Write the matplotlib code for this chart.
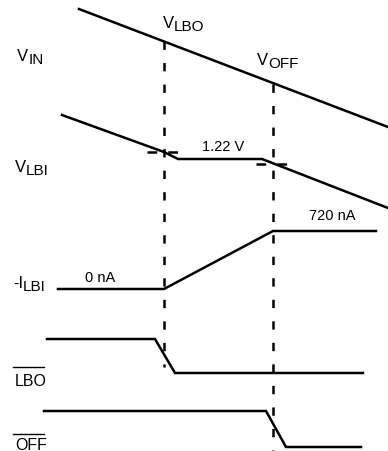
import matplotlib
matplotlib.use("Agg")
import matplotlib.pyplot as plt

# Timing diagram traces (pixel units, y grows downward)
vin_x = [79, 388]
vin_y = [10, 128]
vlbi_x = [62, 164, 178, 262, 388]
vlbi_y = [116, 153, 160, 160, 209]
ilbi_x = [58, 164, 273, 376]
ilbi_y = [290, 290, 232, 232]
lbo_x = [47, 155, 175, 363]
lbo_y = [340, 340, 374, 374]
off_x = [44, 266, 286, 361]
off_y = [412, 412, 448, 448]

# threshold markers: x position, top and bottom of dashed line, crossing level
marker_x = [164, 273]
marker_top = [42, 85]
marker_bottom = [368, 452]
marker_cross = [153, 165]

# signal labels: main letter, subscript, left x, baseline y
sig_main = ["V", "V", "V", "V", "-I"]
sig_sub = ["IN", "LBO", "OFF", "LBI", "LBI"]
sig_x = [17, 163, 257, 15, 13]
sig_y = [61, 28, 65, 172, 288]

# overlined (active low) labels
bar_text = ["LBO", "OFF"]
bar_x = [15, 15]
bar_y = [386, 450]
bar_line_y = [368, 435]

# value annotations
val_text = ["1.22 V", "0 nA", "720 nA"]
val_x = [202, 85, 309]
val_y = [151, 282, 220]

plt.rcParams['font.family'] = ['Liberation Sans', 'DejaVu Sans']
plt.rcParams['lines.scale_dashes'] = False

fig = plt.figure(figsize=(3.88, 4.52), dpi=100)
ax = fig.add_axes([0, 0, 1, 1])
ax.set_xlim(0, 388)
ax.set_ylim(452, 0)
ax.axis('off')

lw = 1.8
for xs, ys in [(vin_x, vin_y), (vlbi_x, vlbi_y), (ilbi_x, ilbi_y),
               (lbo_x, lbo_y), (off_x, off_y)]:
    ax.plot(xs, ys, color='black', lw=lw, solid_joinstyle='miter')

for x, top, bot, cy in zip(marker_x, marker_top, marker_bottom, marker_cross):
    ax.plot([x, x], [top, bot], color='black', lw=lw, dashes=(6, 9.5))
    ax.plot([x - 17, x + 15], [cy, cy], color='black', lw=lw, dashes=(7, 8))

renderer = fig.canvas.get_renderer()
for main, sub, x, y in zip(sig_main, sig_sub, sig_x, sig_y):
    t = ax.text(x, y, main, fontsize=12, ha='left', va='baseline')
    w = t.get_window_extent(renderer).width
    ax.text(x + w, y + 3, sub, fontsize=11, ha='left', va='baseline')

for txt, x, y, ly in zip(bar_text, bar_x, bar_y, bar_line_y):
    t = ax.text(x, y, txt, fontsize=11.5, ha='left', va='baseline')
    w = t.get_window_extent(renderer).width
    ax.plot([x - 2, x + w - 3], [ly, ly], color='black', lw=1)

for txt, x, y in zip(val_text, val_x, val_y):
    ax.text(x, y, txt, fontsize=10.5, ha='left', va='baseline')

fig.savefig("out.png", dpi=100)
